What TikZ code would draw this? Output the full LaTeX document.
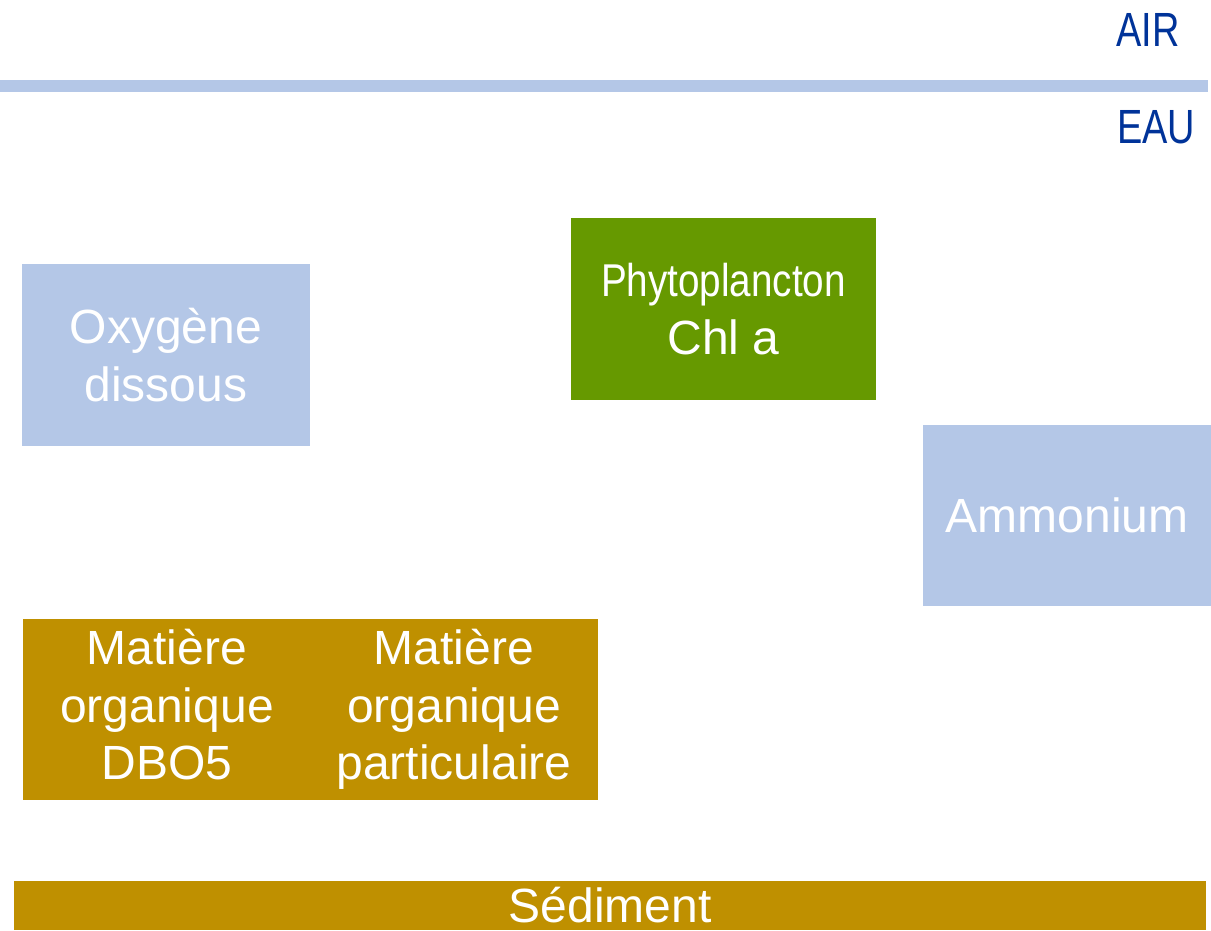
\documentclass[tikz,border=0pt]{standalone}
\usepackage{fontspec}
\setmainfont{Liberation Sans}
\newfontfamily\condfont[FakeStretch=0.79]{Liberation Sans}
\newfontfamily\phytofont[FakeStretch=0.84]{Liberation Sans}
\definecolor{lblue}{HTML}{B4C7E7}
\definecolor{pgreen}{HTML}{669900}
\definecolor{gold}{HTML}{BF9000}
\definecolor{dblue}{HTML}{003399}
\begin{document}
\begin{tikzpicture}[x=1pt,y=-1pt,
  box/.style={rectangle, inner sep=0pt, outer sep=0pt, anchor=north west, align=center,
    text=white, font=\fontsize{48}{57.5}\selectfont},
  layerlabel/.style={inner sep=0pt, anchor=base west, text=dblue, font=\fontsize{48}{57.5}\selectfont\condfont}]
\useasboundingbox (0,0) rectangle (1211,930);
\clip (0,0) rectangle (1211,930);
\fill[white] (0,0) rectangle (1211,930);
% surface line
\fill[lblue] (0,80) rectangle (1208,92);
\node[layerlabel] (air) at (1116,46) {AIR};
\node[layerlabel] (eau) at (1117,143) {EAU};
% boxes
\node[box, fill=lblue, minimum width=288pt, minimum height=182pt] (oxy) at (22,264) {Oxygène\\dissous};
\node[box, fill=pgreen, minimum width=305pt, minimum height=182pt] (phyto) at (571,218)
  {{\fontsize{46}{60}\selectfont\phytofont Phytoplancton}\\\fontsize{48}{60}\selectfont Chl a};
\node[box, fill=lblue, minimum width=288pt, minimum height=181pt] (amm) at (923,425) {Ammonium};
\node[box, fill=gold, minimum width=288pt, minimum height=181pt] (mod) at (23,619) {Matière\\organique\\DBO5\vphantom{p}};
\node[box, fill=gold, minimum width=288pt, minimum height=181pt] (mop) at (310,619) {Matière\\organique\\particulaire};
\node[box, fill=gold, minimum width=1192pt, minimum height=49pt] (sed) at (14,881) {Sédiment};
\end{tikzpicture}
\end{document}
